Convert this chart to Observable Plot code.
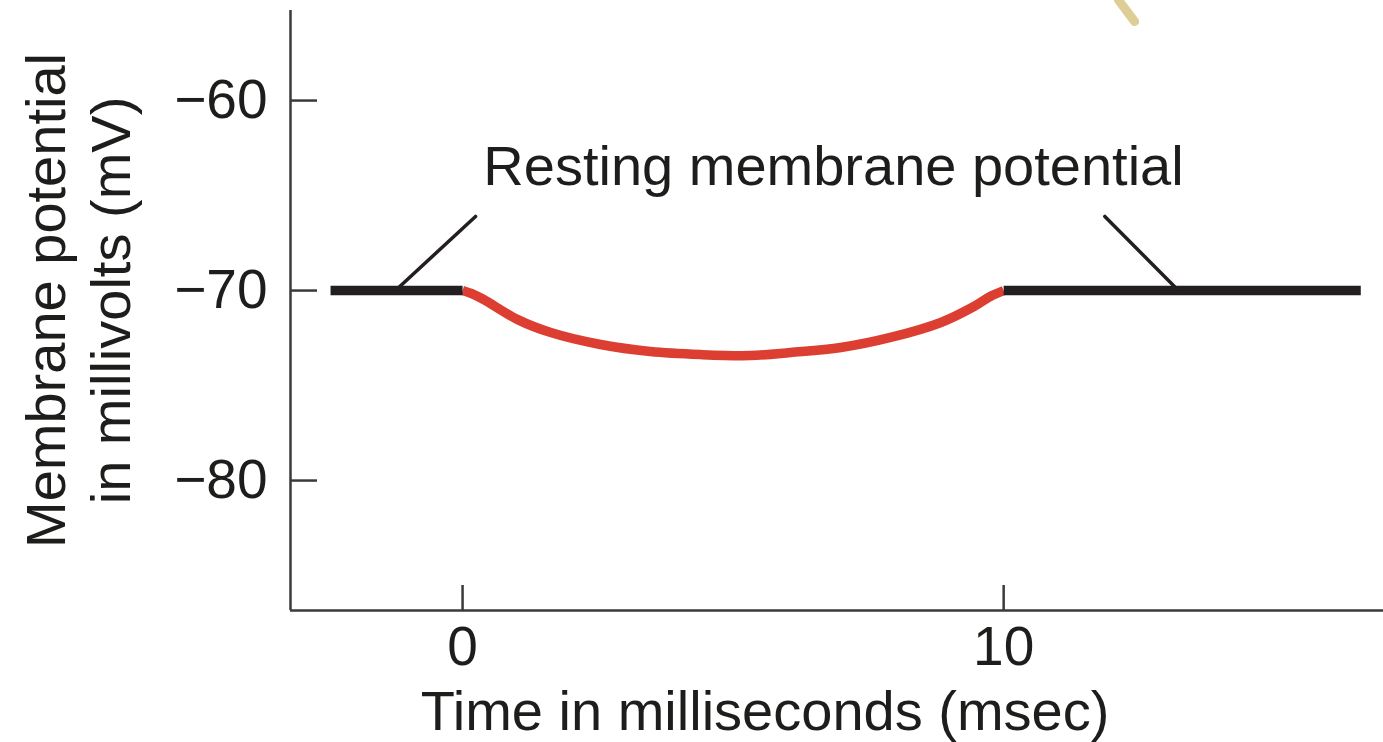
<!DOCTYPE html>
<html><head><meta charset="utf-8">
<script src="https://cdn.jsdelivr.net/npm/d3@7"></script>
<script src="https://cdn.jsdelivr.net/npm/@observablehq/plot@0.6"></script>
<style>html,body{margin:0;padding:0;background:#fff;} svg{display:block}</style>
</head><body><div id="chart"></div>
<script>
// Axis domains and ticks
const xDomain = [-3.18, 17.02];
const yDomain = [-86.84, -55.26];
const xTicks = [0, 10];
const yTicks = [-80, -70, -60];

// Resting membrane potential segments (black)
const restLeftTime = [-2.44, 0];
const restLeftMv = [-70, -70];
const restRightTime = [10, 16.6];
const restRightMv = [-70, -70];

// Hyperpolarization (red)
const hyperTime = [0, 0.2, 0.39, 1.02, 1.63, 2.55, 3.47, 4.40, 5.32, 6.06, 6.99, 7.91, 8.84, 9.45, 9.76, 10];
const hyperMv = [-70, -70.2, -70.47, -71.53, -72.21, -72.84, -73.21, -73.37, -73.42, -73.26, -73.0, -72.47, -71.68, -70.84, -70.3, -70];

// Leader lines for the annotation
const leaderLeftTime = [-1.24, 0.24];
const leaderLeftMv = [-70, -66.1];
const leaderRightTime = [11.87, 13.23];
const leaderRightMv = [-66.1, -70];

// Stray mark at the top edge of the source image
const strayTime = [12.12, 12.42];
const strayMv = [-54.7, -55.84];

// Texts
const annotation = ["Resting membrane potential"];
const xLabel = ["Time in milliseconds (msec)"];
const yLabel = ["Membrane potential", "in millivolts (mV)"];

const pts = (xs, ys) => xs.map((t, i) => ({t, v: ys[i]}));

const ink = "#1d1d1b";
const axisInk = "#3a3a3a";

const chart = Plot.plot({
  width: 1383, height: 742,
  marginLeft: 290, marginRight: 0, marginTop: 10, marginBottom: 132,
  style: {fontFamily: "'Liberation Sans', Arial, Helvetica, sans-serif", background: "#fff", color: ink},
  x: {domain: xDomain, ticks: xTicks},
  y: {domain: yDomain, ticks: yTicks},
  marks: [
    Plot.axisX(xTicks, {tickSize: 0, tickPadding: 15, fontSize: 55, label: null, tickFormat: d => String(d)}),
    Plot.axisY(yTicks, {tickSize: 0, tickPadding: 23, fontSize: 55, label: null}),
    Plot.tickX(xTicks, {x: d => d, insetTop: 575, stroke: axisInk, strokeWidth: 2.5}),
    Plot.tickY(yTicks, {y: d => d, insetRight: 1066, stroke: axisInk, strokeWidth: 2.5}),
    Plot.ruleX([xDomain[0]], {stroke: axisInk, strokeWidth: 2.5}),
    Plot.ruleY([yDomain[0]], {stroke: axisInk, strokeWidth: 2.5}),
    Plot.line(pts(strayTime, strayMv), {x: "t", y: "v", stroke: "#d6c27a", strokeWidth: 9, strokeOpacity: 0.8}),
    Plot.line(pts(hyperTime, hyperMv), {x: "t", y: "v", stroke: "#dc3f32", strokeWidth: 9.5, curve: "catmull-rom", strokeLinecap: "butt"}),
    Plot.line(pts(restLeftTime, restLeftMv), {x: "t", y: "v", stroke: "#231f20", strokeWidth: 9.5, strokeLinecap: "butt"}),
    Plot.line(pts(restRightTime, restRightMv), {x: "t", y: "v", stroke: "#231f20", strokeWidth: 9.5, strokeLinecap: "butt"}),
    Plot.line(pts(leaderLeftTime, leaderLeftMv), {x: "t", y: "v", stroke: "#231f20", strokeWidth: 3.5}),
    Plot.line(pts(leaderRightTime, leaderRightMv), {x: "t", y: "v", stroke: "#231f20", strokeWidth: 3.5}),
    Plot.text(annotation, {text: d => d, frameAnchor: "top", dx: -3.5, dy: 157, fontSize: 56, lineAnchor: "middle", fill: ink}),
    Plot.text(xLabel, {text: d => d, frameAnchor: "bottom", dx: -72, dy: 102, fontSize: 56, lineAnchor: "middle", fill: ink}),
    Plot.text([yLabel.join("\n")], {text: d => d, frameAnchor: "left", textAnchor: "middle", rotate: -90, dx: -213.5, dy: -10, fontSize: 56, lineHeight: 1.16, lineAnchor: "middle", fill: ink})
  ]
});
document.getElementById("chart").appendChild(chart);
</script>
</body></html>
